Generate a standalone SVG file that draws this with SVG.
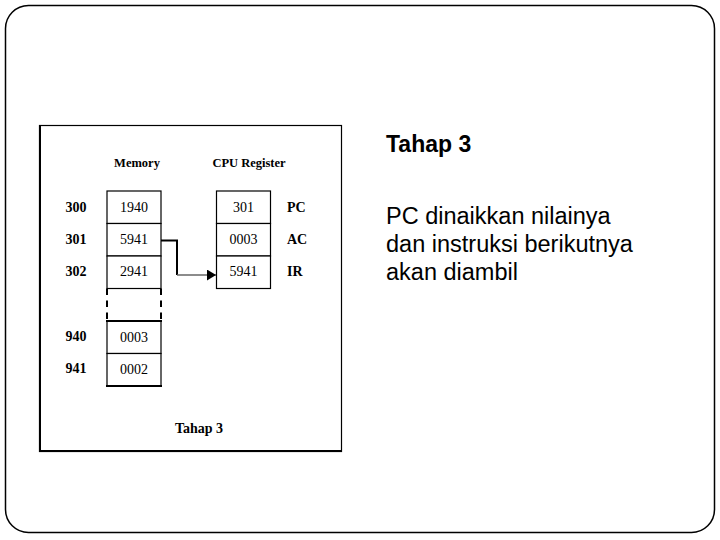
<svg xmlns="http://www.w3.org/2000/svg" width="720" height="540" viewBox="0 0 720 540">
<style>
.serif{font-family:"Liberation Serif","Times New Roman",serif;fill:#000}
.hdr{font-size:12.5px;font-weight:bold;text-anchor:middle}
.addr{font-size:14px;font-weight:bold;text-anchor:middle}
.val{font-size:14px;text-anchor:middle}
.reg{font-size:14px;font-weight:bold}
.cell{fill:#fff;stroke:#000;stroke-width:1.2}
.sans{font-family:"Liberation Sans",Arial,sans-serif;fill:#000}
</style>
<defs>
<marker id="ah" markerWidth="10" markerHeight="12" refX="9" refY="5.5" orient="auto" markerUnits="userSpaceOnUse">
<path d="M0,0 L9,5.5 L0,11 Z" fill="#000"/>
</marker>
</defs>
<rect id="frame" x="5.5" y="5.5" width="709" height="527" rx="23" ry="23" fill="#fff" stroke="#000" stroke-width="1.5"/>
<g id="figure-box">
<rect x="39.5" y="125.5" width="302" height="326" fill="#fff" stroke="#000" stroke-width="1.2"/>
<line x1="40" y1="125" x2="40" y2="452" stroke="#000" stroke-width="2"/>
<line x1="39" y1="451" x2="342" y2="451" stroke="#000" stroke-width="2.2"/>
</g>
<text class="serif hdr" x="137" y="167" font-size="12">Memory</text>
<text class="serif hdr" x="249" y="167">CPU Register</text>
<g id="memory">
<g id="mem-300"><rect class="cell" x="107" y="191" width="54" height="32.5"/><text class="serif addr" x="76" y="212">300</text><text class="serif val" x="134" y="212">1940</text></g>
<g id="mem-301"><rect class="cell" x="107" y="223.5" width="54" height="32.5"/><text class="serif addr" x="76" y="244">301</text><text class="serif val" x="134" y="244">5941</text></g>
<g id="mem-302"><rect class="cell" x="107" y="256" width="54" height="32.5"/><text class="serif addr" x="76" y="276">302</text><text class="serif val" x="134" y="276">2941</text></g>
<g id="mem-gap">
<line x1="107" y1="288.5" x2="107" y2="321" stroke="#000" stroke-width="2" stroke-dasharray="6.5,5.5"/>
<line x1="161" y1="288.5" x2="161" y2="321" stroke="#000" stroke-width="2" stroke-dasharray="6.5,5.5"/>
<line x1="106" y1="321" x2="162" y2="321" stroke="#000" stroke-width="2"/>
</g>
<g id="mem-940"><rect class="cell" x="107" y="321" width="54" height="32.5"/><line x1="106" y1="321" x2="162" y2="321" stroke="#000" stroke-width="2"/><text class="serif addr" x="76" y="341">940</text><text class="serif val" x="134" y="342">0003</text></g>
<g id="mem-941"><rect class="cell" x="107" y="353.5" width="54" height="32.5"/><line x1="106" y1="386" x2="162" y2="386" stroke="#000" stroke-width="2"/><text class="serif addr" x="76" y="373">941</text><text class="serif val" x="134" y="374">0002</text></g>
</g>
<g id="cpu">
<g id="reg-pc"><rect class="cell" x="216.5" y="191" width="54" height="32.5"/><text class="serif val" x="243.5" y="212">301</text><text class="serif reg" x="287" y="212">PC</text></g>
<g id="reg-ac"><rect class="cell" x="216.5" y="223.5" width="54" height="32.5"/><text class="serif val" x="243.5" y="244">0003</text><text class="serif reg" x="287" y="244">AC</text></g>
<g id="reg-ir"><rect class="cell" x="216.5" y="256" width="54" height="32.5"/><text class="serif val" x="243.5" y="276">5941</text><text class="serif reg" x="287" y="276">IR</text></g>
</g>
<g id="connectors">
<polyline points="161,240.5 177,240.5 177,275" fill="none" stroke="#000" stroke-width="2"/>
<line x1="177" y1="275" x2="216" y2="275" stroke="#666" stroke-width="1.3" marker-end="url(#ah)"/>
</g>
<text class="serif" x="199" y="433" font-size="14" font-weight="bold" text-anchor="middle">Tahap 3</text>
<g id="description">
<text class="sans" x="386" y="152" font-size="23" font-weight="bold">Tahap 3</text>
<text class="sans" x="386" y="224" font-size="23.5">PC dinaikkan nilainya</text>
<text class="sans" x="386" y="252" font-size="23.5">dan instruksi berikutnya</text>
<text class="sans" x="386" y="280" font-size="23.5">akan diambil</text>
</g>
</svg>
